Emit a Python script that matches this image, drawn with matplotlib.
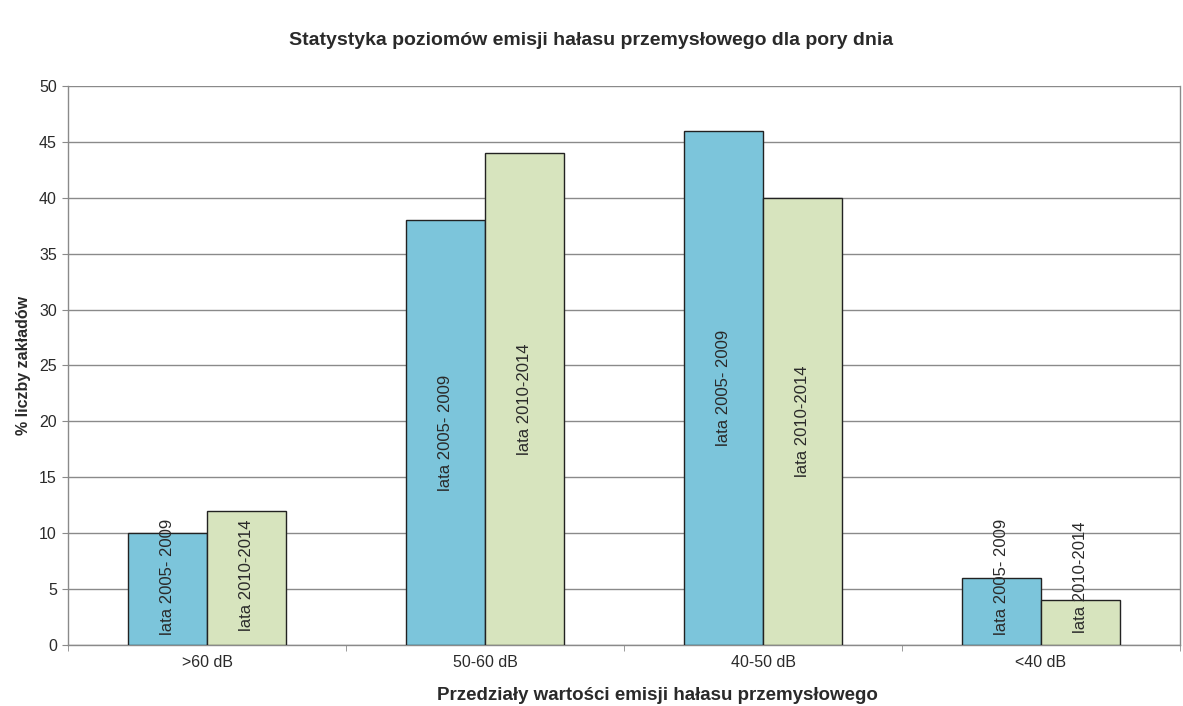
import numpy as np
import matplotlib
matplotlib.use('Agg')
import matplotlib.pyplot as plt

plt.rcParams['font.family'] = ['Liberation Sans', 'DejaVu Sans']

# ── Data ──────────────────────────────────────────────────────────────────────
categories = ['>60 dB', '50-60 dB', '40-50 dB', '<40 dB']
series     = ['lata 2005- 2009', 'lata 2010-2014']
v_2005     = [10, 38, 46, 6]
v_2010     = [12, 44, 40, 4]

# label centres (in data units) as placed in the original chart
lab_y_2005 = [6.1, 19.0, 23.0, 6.1]
lab_y_2010 = [6.2, 22.0, 20.0, 6.1]

C_BLUE  = '#7cc5db'
C_GREEN = '#d7e4be'
GRID    = '#8a8a8a'
TXT     = '#2a2a2a'

fig = plt.figure(figsize=(11.83, 7.06), dpi=100)
ax = fig.add_axes([0.0575, 0.0864, 0.94, 0.7918])

x = np.arange(len(categories))
w = 0.285
ax.bar(x - w / 2, v_2005, w, color=C_BLUE, edgecolor='#222222', linewidth=1.0, zorder=3)
ax.bar(x + w / 2, v_2010, w, color=C_GREEN, edgecolor='#222222', linewidth=1.0, zorder=3)

for i in range(len(categories)):
    ax.text(x[i] - w / 2, lab_y_2005[i], series[0], rotation=90, ha='center', va='center',
            fontsize=12, color=TXT, zorder=4)
    ax.text(x[i] + w / 2, lab_y_2010[i], series[1], rotation=90, ha='center', va='center',
            fontsize=12, color=TXT, zorder=4)

ax.set_xlim(-0.5, len(categories) - 0.5)
ax.set_ylim(0, 50)
ax.set_yticks(np.arange(0, 51, 5))
ax.yaxis.grid(True, color=GRID, linewidth=1.0, zorder=0)
ax.set_axisbelow(True)

ax.set_xticks(x)
ax.set_xticklabels(categories, fontsize=11.5, color=TXT)
ax.set_xticks(np.arange(-0.5, len(categories), 1.0), minor=True)
ax.tick_params(axis='x', which='major', length=0, pad=7)
ax.tick_params(axis='x', which='minor', length=4, color=GRID, direction='out')
ax.tick_params(axis='y', length=4, color=GRID, labelsize=11.5, labelcolor=TXT, pad=4)

for s in ['left', 'right', 'bottom']:
    ax.spines[s].set_color(GRID)
    ax.spines[s].set_linewidth(1.0)
ax.spines['top'].set_visible(False)

ax.set_ylabel('% liczby zakładów', fontsize=11.5, fontweight='bold', color=TXT, labelpad=6)
# x-axis title sits right of the axes centre in the original
fig.text(657 / 1183, 1 - 695 / 706, 'Przedziały wartości emisji hałasu przemysłowego',
         ha='center', va='center', fontsize=13.5, fontweight='bold', color=TXT)
fig.text(0.5, 0.942, 'Statystyka poziomów emisji hałasu przemysłowego dla pory dnia',
         ha='center', va='center', fontsize=14, fontweight='bold', color=TXT)

plt.savefig('out.png', dpi=100)
plt.close()
